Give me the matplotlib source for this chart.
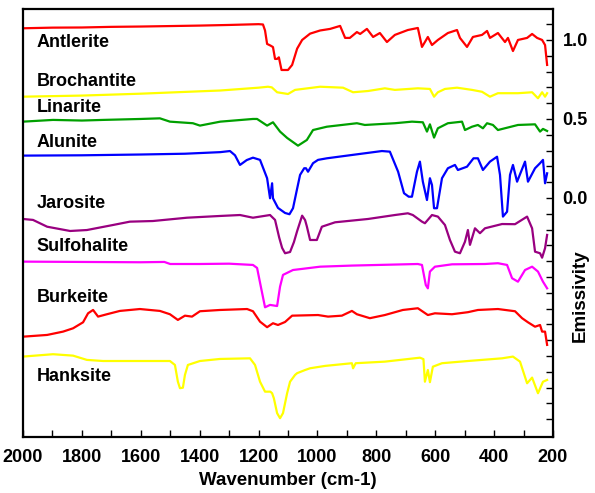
import matplotlib

matplotlib.use("Agg")
import matplotlib.pyplot as plt
from matplotlib.ticker import MultipleLocator, FixedLocator

plt.rcParams["font.family"] = ["Liberation Sans", "DejaVu Sans"]
plt.rcParams["font.weight"] = "bold"

# wavenumber (cm-1) / emissivity (offset)
antlerite_wn = [2000, 1900, 1800, 1700, 1600, 1500, 1400, 1300, 1200, 1185, 1178, 1171, 1160, 1151, 1144,
                1137, 1131, 1122, 1100, 1086, 1069, 1052, 1025, 991, 957, 923, 906, 890, 866, 855, 832, 811,
                788, 764, 737, 693, 659, 645, 635, 625, 611, 591, 557, 526, 516, 492, 472, 441, 424, 414, 387,
                363, 353, 336, 319, 288, 271, 254, 237, 227, 220]
antlerite_em = [1.074, 1.078, 1.079, 1.083, 1.085, 1.088, 1.091, 1.095, 1.100, 1.098, 1.06, 0.975, 0.965, 0.955,
                0.88, 0.88, 0.89, 0.81, 0.81, 0.842, 0.945, 1.0, 1.04, 1.06, 1.07, 1.089, 1.013, 1.013, 1.05,
                1.038, 1.07, 1.019, 1.044, 0.987, 1.032, 1.063, 1.076, 0.956, 0.987, 1.019, 0.968, 1.0, 1.044,
                1.063, 1.013, 0.956, 1.019, 1.032, 1.057, 1.013, 1.044, 0.987, 1.013, 0.93, 1.0, 1.013, 1.038,
                1.013, 1.0, 0.968, 0.842]

brochantite_wn = [2000, 1800, 1600, 1400, 1331, 1200, 1168, 1155, 1137, 1100, 1076, 991, 913, 879, 828, 771,
                  737, 659, 618, 604, 591, 567, 526, 475, 441, 414, 387, 319, 271, 251, 237, 227, 220]
brochantite_em = [0.641, 0.648, 0.660, 0.675, 0.680, 0.698, 0.704, 0.700, 0.669, 0.658, 0.684, 0.704, 0.698,
                  0.669, 0.677, 0.694, 0.684, 0.694, 0.690, 0.641, 0.669, 0.690, 0.698, 0.684, 0.672, 0.641,
                  0.663, 0.663, 0.669, 0.631, 0.669, 0.641, 0.663]

linarite_wn = [2000, 1898, 1800, 1728, 1600, 1535, 1501, 1423, 1399, 1330, 1219, 1205, 1171, 1151, 1127, 1103,
               1066, 1036, 1015, 968, 866, 839, 737, 679, 642, 628, 618, 604, 591, 557, 509, 499, 475, 455,
               438, 424, 404, 387, 319, 261, 244, 234, 220]
linarite_em = [0.483, 0.494, 0.49, 0.494, 0.5, 0.504, 0.483, 0.473, 0.458, 0.483, 0.5, 0.5, 0.458, 0.479, 0.42,
               0.38, 0.331, 0.367, 0.43, 0.451, 0.473, 0.462, 0.473, 0.483, 0.479, 0.42, 0.466, 0.382, 0.441,
               0.473, 0.483, 0.43, 0.451, 0.462, 0.441, 0.473, 0.462, 0.43, 0.462, 0.466, 0.42, 0.437, 0.424]

alunite_wn = [2000, 1800, 1600, 1450, 1330, 1297, 1280, 1263, 1240, 1219, 1195, 1171, 1161, 1154, 1151, 1134,
              1110, 1095, 1083, 1070, 1059, 1045, 1039, 1032, 1015, 998, 968, 883, 781, 754, 726, 706, 690,
              679, 662, 652, 642, 628, 618, 611, 604, 594, 577, 557, 533, 523, 492, 470, 455, 438, 414, 390,
              380, 370, 356, 346, 336, 322, 295, 285, 261, 244, 234, 227, 220]
alunite_em = [0.268, 0.270, 0.275, 0.28, 0.29, 0.297, 0.27, 0.209, 0.24, 0.255, 0.241, 0.125, -0.002, 0.093,
              -0.002, -0.063, -0.095, -0.103, -0.065, 0.05, 0.146, 0.188, 0.188, 0.166, 0.22, 0.241, 0.251,
              0.272, 0.297, 0.293, 0.166, 0.03, 0.008, 0.008, 0.166, 0.23, 0.103, -0.013, 0.125, 0.082, -0.065,
              -0.065, 0.125, 0.188, 0.209, 0.177, 0.198, 0.251, 0.251, 0.177, 0.23, 0.261, 0.146, -0.118,
              -0.087, 0.146, 0.209, 0.103, 0.23, 0.103, 0.188, 0.22, 0.241, 0.093, 0.156]

jarosite_wn = [2000, 1966, 1918, 1840, 1783, 1694, 1637, 1559, 1443, 1331, 1263, 1219, 1161, 1144, 1130, 1120,
               1110, 1093, 1080, 1069, 1052, 1042, 1036, 1025, 1002, 985, 940, 828, 737, 693, 676, 645, 635,
               611, 591, 567, 550, 533, 516, 499, 489, 482, 465, 448, 431, 373, 329, 288, 271, 261, 244, 237,
               227, 220]
jarosite_em = [-0.133, -0.139, -0.182, -0.209, -0.203, -0.171, -0.150, -0.146, -0.125, -0.114, -0.108, -0.125,
               -0.108, -0.139, -0.25, -0.316, -0.35, -0.342, -0.28, -0.21, -0.112, -0.14, -0.18, -0.266,
               -0.266, -0.182, -0.154, -0.133, -0.108, -0.097, -0.108, -0.150, -0.160, -0.108, -0.118, -0.171,
               -0.266, -0.340, -0.350, -0.277, -0.203, -0.297, -0.192, -0.223, -0.192, -0.165, -0.166, -0.118,
               -0.192, -0.340, -0.350, -0.378, -0.318, -0.234]

sulfohalite_wn = [2000, 1800, 1600, 1520, 1500, 1400, 1300, 1219, 1205, 1190, 1178, 1161, 1137, 1127, 1117,
                  1083, 1052, 991, 883, 659, 645, 632, 625, 618, 601, 543, 431, 387, 356, 339, 319, 295, 271,
                  251, 234, 220]
sulfohalite_em = [-0.403, -0.405, -0.407, -0.405, -0.418, -0.418, -0.416, -0.424, -0.443, -0.582, -0.692,
                  -0.677, -0.684, -0.561, -0.487, -0.456, -0.449, -0.435, -0.428, -0.418, -0.424, -0.551,
                  -0.572, -0.466, -0.435, -0.420, -0.418, -0.413, -0.424, -0.508, -0.530, -0.456, -0.435,
                  -0.466, -0.530, -0.572]

burkeite_wn = [2000, 1918, 1864, 1830, 1796, 1779, 1762, 1745, 1715, 1671, 1603, 1535, 1501, 1474, 1450, 1426,
               1399, 1331, 1239, 1219, 1195, 1171, 1151, 1134, 1110, 1086, 998, 964, 917, 883, 866, 822, 771,
               710, 659, 625, 601, 543, 489, 455, 387, 329, 305, 285, 261, 244, 237, 227, 220]
burkeite_em = [-0.878, -0.867, -0.846, -0.825, -0.787, -0.730, -0.709, -0.751, -0.736, -0.715, -0.703, -0.715,
               -0.736, -0.772, -0.745, -0.751, -0.717, -0.709, -0.703, -0.717, -0.783, -0.818, -0.793, -0.804,
               -0.785, -0.745, -0.741, -0.751, -0.745, -0.715, -0.736, -0.761, -0.741, -0.709, -0.698, -0.741,
               -0.730, -0.736, -0.723, -0.709, -0.703, -0.717, -0.761, -0.787, -0.815, -0.804, -0.846, -0.846,
               -0.930]

hanksite_wn = [2000, 1898, 1830, 1783, 1728, 1501, 1484, 1474, 1467, 1457, 1450, 1440, 1399, 1331, 1229, 1212,
               1195, 1178, 1160, 1154, 1148, 1137, 1127, 1117, 1103, 1093, 1076, 1069, 1042, 1025, 974, 883,
               879, 870, 771, 652, 640, 635, 625, 618, 608, 577, 489, 373, 336, 312, 288, 271, 251, 234, 220]
hanksite_em = [-1.004, -0.989, -0.998, -1.025, -1.032, -1.032, -1.057, -1.163, -1.204, -1.201, -1.120, -1.057,
               -1.032, -1.019, -1.015, -1.057, -1.163, -1.226, -1.226, -1.236, -1.268, -1.362, -1.394, -1.362,
               -1.236, -1.163, -1.12, -1.109, -1.089, -1.078, -1.063, -1.046, -1.078, -1.046, -1.036, -1.011,
               -1.02, -1.163, -1.089, -1.166, -1.068, -1.046, -1.032, -1.015, -1.004, -1.036, -1.173, -1.137,
               -1.236, -1.163, -1.152]

names = ["Antlerite", "Brochantite", "Linarite", "Alunite", "Jarosite", "Sulfohalite", "Burkeite", "Hanksite"]
colors = ["#ff0000", "#ffff00", "#00a000", "#0000ff", "#990080", "#ff00ff", "#ff0000", "#ffff00"]
label_y = [0.987, 0.734, 0.57, 0.354, -0.032, -0.31, -0.627, -1.133]

spectra = [
    (antlerite_wn, antlerite_em),
    (brochantite_wn, brochantite_em),
    (linarite_wn, linarite_em),
    (alunite_wn, alunite_em),
    (jarosite_wn, jarosite_em),
    (sulfohalite_wn, sulfohalite_em),
    (burkeite_wn, burkeite_em),
    (hanksite_wn, hanksite_em),
]

fig = plt.figure(figsize=(5.95, 4.93), dpi=100)
ax = fig.add_axes([23 / 595, 1 - 437 / 493, 530 / 595, 428 / 493])

for (wn, em), name, color, ly in zip(spectra, names, colors, label_y):
    ax.plot(wn, em, color=color, linewidth=1.6, solid_joinstyle="round")
    ax.text(1953, ly, name, fontsize=13, fontweight="bold", ha="left", va="center")

ax.set_xlim(2000, 200)
ax.set_ylim(-1.513, 1.196)

ax.xaxis.set_major_locator(MultipleLocator(200))
ax.xaxis.set_minor_locator(MultipleLocator(100))
ax.yaxis.tick_right()
ax.yaxis.set_major_locator(FixedLocator([0.0, 0.5, 1.0]))
ax.yaxis.set_minor_locator(FixedLocator([v / 10 for v in range(-14, 12)]))
ax.tick_params(axis="x", which="both", direction="in", length=5, width=1, labelsize=13, pad=9)
ax.tick_params(axis="y", which="both", direction="in", length=5, width=1, labelsize=13, pad=7,
               left=False, right=True)
for lab in ax.get_xticklabels() + ax.get_yticklabels():
    lab.set_fontweight("bold")

for side in ax.spines.values():
    side.set_linewidth(1.6)

ax.set_xlabel("Wavenumber (cm-1)", fontsize=13.5, fontweight="bold", labelpad=4)
ax.yaxis.set_label_position("right")
ax.set_ylabel("Emissivity", fontsize=13.5, fontweight="bold")
ax.yaxis.set_label_coords(1.036, 0.33)

fig.savefig("out.png", dpi=100)
plt.close(fig)
